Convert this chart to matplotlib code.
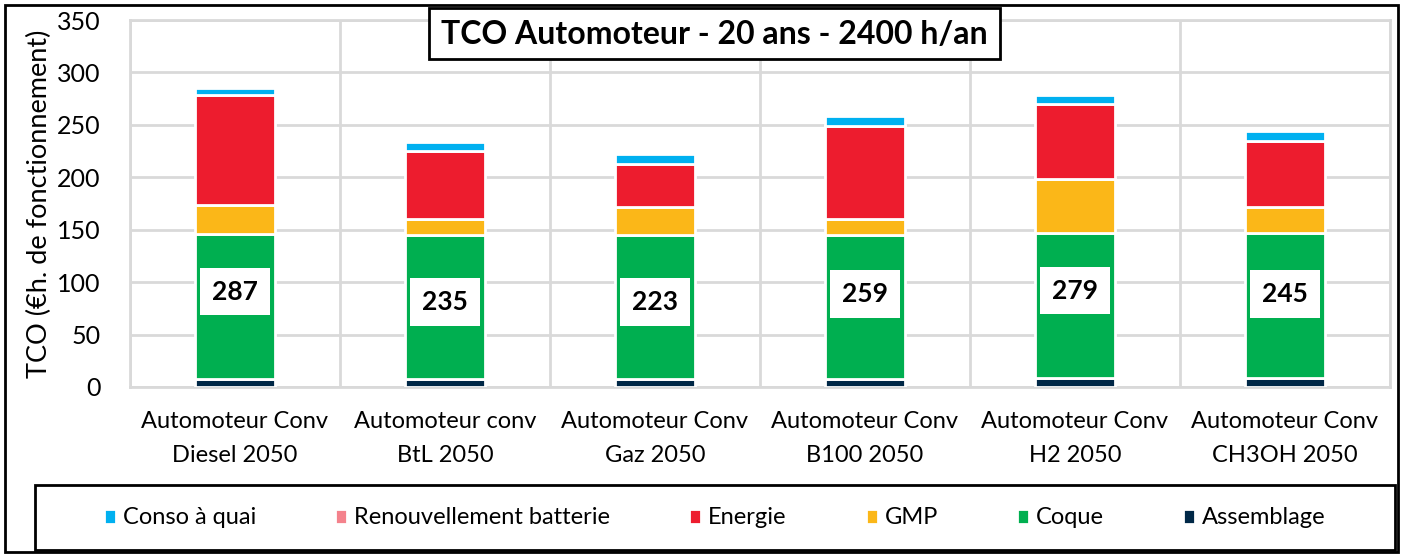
import numpy as np
import matplotlib.pyplot as plt
from matplotlib.patches import Rectangle

plt.rcParams['font.family'] = ['Lato', 'DejaVu Sans']

categories = ['Automoteur Conv\nDiesel 2050', 'Automoteur conv\nBtL 2050', 'Automoteur Conv\nGaz 2050',
              'Automoteur Conv\nB100 2050', 'Automoteur Conv\nH2 2050', 'Automoteur Conv\nCH3OH 2050']
assemblage = [8, 8, 8, 8, 9, 9]
coque = [138, 137, 137, 137, 138, 138]
gmp = [28, 15, 27, 15, 51, 25]
batterie = [0, 0, 0, 0, 0, 0]
energie = [104, 65, 41, 89, 72, 63]
conso_quai = [7, 9, 9, 9, 8, 9]
totals = [287, 235, 223, 259, 279, 245]
label_y = [91, 81, 81, 89, 92, 89]

series = [('Assemblage', assemblage, '#002847'),
          ('Coque', coque, '#00AF50'),
          ('GMP', gmp, '#FBB718'),
          ('Renouvellement batterie', batterie, '#F4828C'),
          ('Energie', energie, '#ED1C2E'),
          ('Conso à quai', conso_quai, '#00B0F0')]

W, H = 1403, 554
fig = plt.figure(figsize=(W / 100, H / 100), dpi=100)
ax = fig.add_axes([130 / W, 1 - 387 / H, 1260 / W, 367 / H])

x = np.arange(len(categories))
bottom = np.zeros(len(categories))
handles = {}
for name, vals, color in series:
    b = ax.bar(x, vals, 0.38, bottom=bottom, color=color, edgecolor='white', linewidth=2, zorder=3)
    handles[name] = b
    bottom += np.array(vals)

# total labels in white boxes
for xi, t, ly in zip(x, totals, label_y):
    ax.text(xi, ly, str(t), ha='center', va='center', fontsize=19, fontweight='bold', zorder=5,
            bbox=dict(boxstyle='square,pad=0.45', facecolor='white', edgecolor='none'))

ax.set_xlim(-0.5, 5.5)
ax.set_ylim(0, 350)
ax.set_yticks(np.arange(0, 351, 50))
ax.set_xticks(x)
ax.set_xticklabels(categories, fontsize=17, linespacing=1.8)
ax.set_xticks(np.arange(-0.5, 6, 1), minor=True)
ax.tick_params(which='both', length=0)
ax.tick_params(axis='y', labelsize=18, pad=21)
ax.tick_params(axis='x', pad=17)
ax.grid(axis='y', color='#d9d9d9', linewidth=2, zorder=0)
ax.grid(axis='x', which='minor', color='#d9d9d9', linewidth=2, zorder=0)
for s in ax.spines.values():
    s.set_color('#d9d9d9')
    s.set_linewidth(2)
ax.set_ylabel('TCO (€h. de fonctionnement)', fontsize=19.5, labelpad=4)

# outer frame
fig.patches.append(Rectangle((5 / W, 1 - 552 / H), 1393 / W, 547 / H, transform=fig.transFigure,
                             fill=False, edgecolor='black', linewidth=2, zorder=1))

# title box
fig.patches.append(Rectangle((429 / W, 1 - 59 / H), 571 / W, 51 / H, transform=fig.transFigure,
                             facecolor='white', edgecolor='black', linewidth=2, zorder=6))
fig.text(714 / W, 1 - 34 / H, 'TCO Automoteur - 20 ans - 2400 h/an', ha='center', va='center',
         fontsize=23, fontweight='bold', zorder=7)

# legend box
fig.patches.append(Rectangle((35 / W, 1 - 550 / H), 1360 / W, 65 / H, transform=fig.transFigure,
                             facecolor='white', edgecolor='black', linewidth=2, zorder=6))
order = ['Conso à quai', 'Renouvellement batterie', 'Energie', 'GMP', 'Coque', 'Assemblage']
leg = fig.legend([handles[n] for n in order], order, loc='center', bbox_to_anchor=(715 / W, 1 - 518 / H),
                 ncol=6, frameon=False, fontsize=17, handlelength=0.5, handleheight=0.6,
                 handletextpad=0.3, columnspacing=3.35)
leg.set_zorder(7)

fig.savefig('out.png', dpi=100)
